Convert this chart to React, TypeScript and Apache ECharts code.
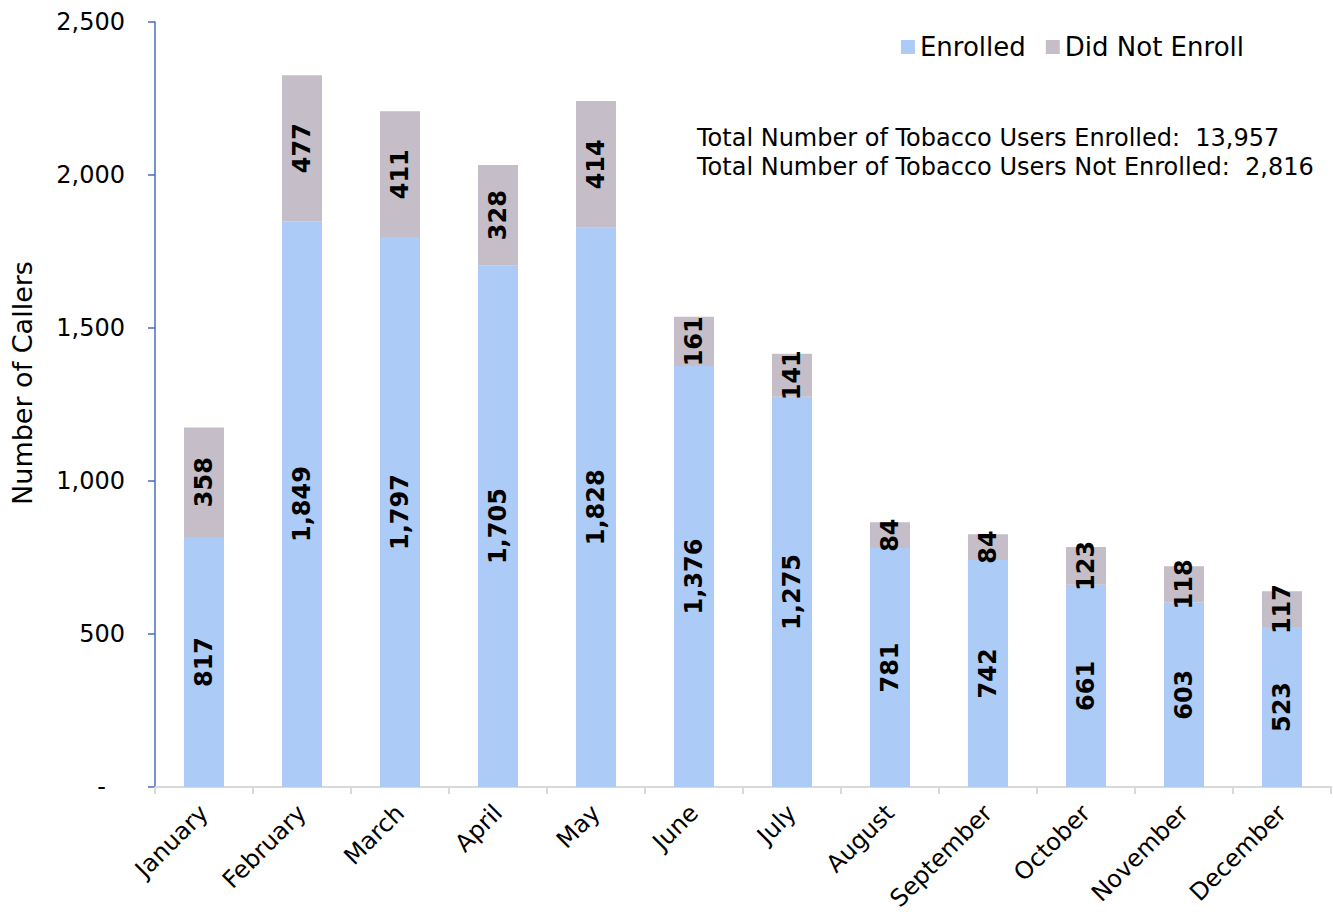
import React, { useEffect, useRef } from "react";
import * as echarts from "echarts";

const months = ["January","February","March","April","May","June","July","August","September","October","November","December"];
const enrolled = [817, 1849, 1797, 1705, 1828, 1376, 1275, 781, 742, 661, 603, 523];
const notEnrolled = [358, 477, 411, 328, 414, 161, 141, 84, 84, 123, 118, 117];
const yTicks = { min: 0, max: 2500, interval: 500 };
const totalsText = [
  "Total Number of Tobacco Users Enrolled:  13,957",
  "Total Number of Tobacco Users Not Enrolled:  2,816",
];

const FONT = "DejaVu Sans";

export default function App() {
  const ref = useRef<HTMLDivElement>(null);
  useEffect(() => {
    const chart = echarts.init(ref.current!, null, { renderer: "svg" });
    const labelCfg = {
      show: true,
      position: "inside",
      rotate: 90,
      fontFamily: FONT,
      fontWeight: "bold",
      fontSize: 24,
      color: "#000",
      formatter: (p: any) => Number(p.value).toLocaleString("en-US"),
    };
    chart.setOption({
      animation: false,
      textStyle: { fontFamily: FONT },
      grid: { left: 155, right: 2, top: 22, bottom: 125, containLabel: false, outerBoundsMode: "none" },
      legend: {
        right: 84,
        top: 29,
        itemWidth: 14,
        itemHeight: 14,
        itemGap: 20,
        icon: "rect",
        textStyle: { fontFamily: FONT, fontSize: 26, color: "#000" },
        data: ["Enrolled", "Did Not Enroll"],
      },
      xAxis: {
        type: "category",
        data: months,
        axisLine: { lineStyle: { color: "#D9D9D9", width: 2 } },
        axisTick: { show: true, length: 7, lineStyle: { color: "#D9D9D9", width: 2 } },
        axisLabel: { rotate: 45, margin: 22, fontSize: 24, color: "#000", fontFamily: FONT, interval: 0 },
      },
      yAxis: {
        type: "value",
        min: yTicks.min,
        max: yTicks.max,
        interval: yTicks.interval,
        splitLine: { show: false },
        axisLine: { show: true, lineStyle: { color: "#4A6BC0", width: 1.5 } },
        axisTick: { show: true, length: 7, lineStyle: { color: "#4A6BC0", width: 1.5 } },
        axisLabel: {
          margin: 30,
          fontSize: 24,
          color: "#000",
          fontFamily: FONT,
          formatter: (v: number) => (v === 0 ? "{d|-}" : v.toLocaleString("en-US")),
          rich: { d: { fontSize: 24, fontFamily: FONT, color: "#000", padding: [0, 19, 0, 0] } },
        },
      },
      graphic: [
        {
          type: "text",
          x: 22,
          y: 383,
          rotation: Math.PI / 2,
          style: {
            text: "Number of Callers",
            fontFamily: FONT,
            fontSize: 27,
            fill: "#000",
            align: "center",
            verticalAlign: "middle",
          },
        },
        {
          type: "text",
          x: 697,
          y: 138,
          style: { text: totalsText[0], fontFamily: FONT, fontSize: 24, fill: "#000", align: "left", verticalAlign: "middle" },
        },
        {
          type: "text",
          x: 697,
          y: 167,
          style: { text: totalsText[1], fontFamily: FONT, fontSize: 24, fill: "#000", align: "left", verticalAlign: "middle" },
        },
      ],
      series: [
        {
          name: "Enrolled",
          type: "bar",
          stack: "total",
          barWidth: 40,
          data: enrolled,
          itemStyle: { color: "#ADCBF7" },
          label: labelCfg,
        },
        {
          name: "Did Not Enroll",
          type: "bar",
          stack: "total",
          barWidth: 40,
          data: notEnrolled,
          itemStyle: { color: "#C5BEC9" },
          label: labelCfg,
        },
      ],
    });
    return () => chart.dispose();
  }, []);
  return <div ref={ref} style={{ position: "absolute", left: 0, top: 0, width: 1333, height: 912 }} />;
}
